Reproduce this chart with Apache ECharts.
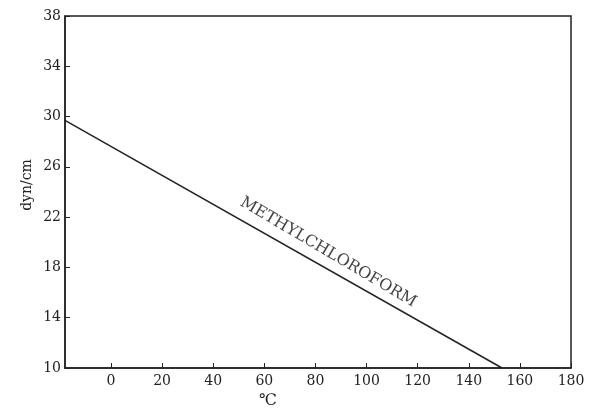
<!DOCTYPE html>
<html><head><meta charset="utf-8">
<script src="https://cdn.jsdelivr.net/npm/echarts@6/dist/echarts.min.js"></script>
<style>html,body{margin:0;padding:0;background:#fff}#c{width:590px;height:413px}</style>
</head><body><div id="c"></div>
<script>
const xTicks = [0, 20, 40, 60, 80, 100, 120, 140, 160, 180];
const yTicks = [10, 14, 18, 22, 26, 30, 34, 38];
const lineX = [-18, 153];
const lineY = [29.7, 10];
const labelPos = [85, 19.2];
const labelText = 'METHYLCHLOROFORM';
const xName = '℃';
const yName = 'dyn/cm';

const chart = echarts.init(document.getElementById('c'));
const font = 'DejaVu Serif, Liberation Serif, serif';
chart.setOption({
  animation: false,
  backgroundColor: '#fff',
  grid: { left: 65, top: 16, right: 19, bottom: 45, show: true, borderColor: '#222', borderWidth: 1.5,
    containLabel: false, outerBoundsMode: 'none' },
  xAxis: {
    type: 'value', min: -18, max: 180,
    axisLine: { show: true, onZero: false, lineStyle: { color: '#222', width: 1.5 } },
    axisTick: { show: true, inside: true, length: 5, customValues: xTicks, lineStyle: { color: '#222' } },
    axisLabel: { customValues: xTicks, fontFamily: font, fontSize: 14, color: '#222', margin: 6 },
    splitLine: { show: false }
  },
  yAxis: {
    type: 'value', min: 10, max: 38,
    axisLine: { show: true, onZero: false, lineStyle: { color: '#222', width: 1.5 } },
    axisTick: { show: true, inside: true, length: 5, customValues: yTicks, lineStyle: { color: '#222' } },
    axisLabel: { customValues: yTicks, fontFamily: font, fontSize: 14, color: '#222', margin: 4 },
    splitLine: { show: false }
  },
  graphic: [
    { type: 'text', x: 27, y: 185, rotation: Math.PI / 2,
      style: { text: yName, font: '14px ' + font, fill: '#222', align: 'center', verticalAlign: 'middle' } },
    { type: 'text', x: 268, y: 401,
      style: { text: xName, font: '16px ' + font, fill: '#222', align: 'center', verticalAlign: 'middle' } }
  ],
  series: [
    {
      type: 'line', symbol: 'none',
      data: lineX.map((x, i) => [x, lineY[i]]),
      lineStyle: { color: '#222', width: 1.5 }
    },
    {
      type: 'scatter', symbolSize: 0,
      data: [labelPos],
      label: { show: true, position: 'inside', formatter: labelText, rotate: -30.5,
        fontFamily: font, fontSize: 16, color: '#111' }
    }
  ]
});
</script></body></html>
